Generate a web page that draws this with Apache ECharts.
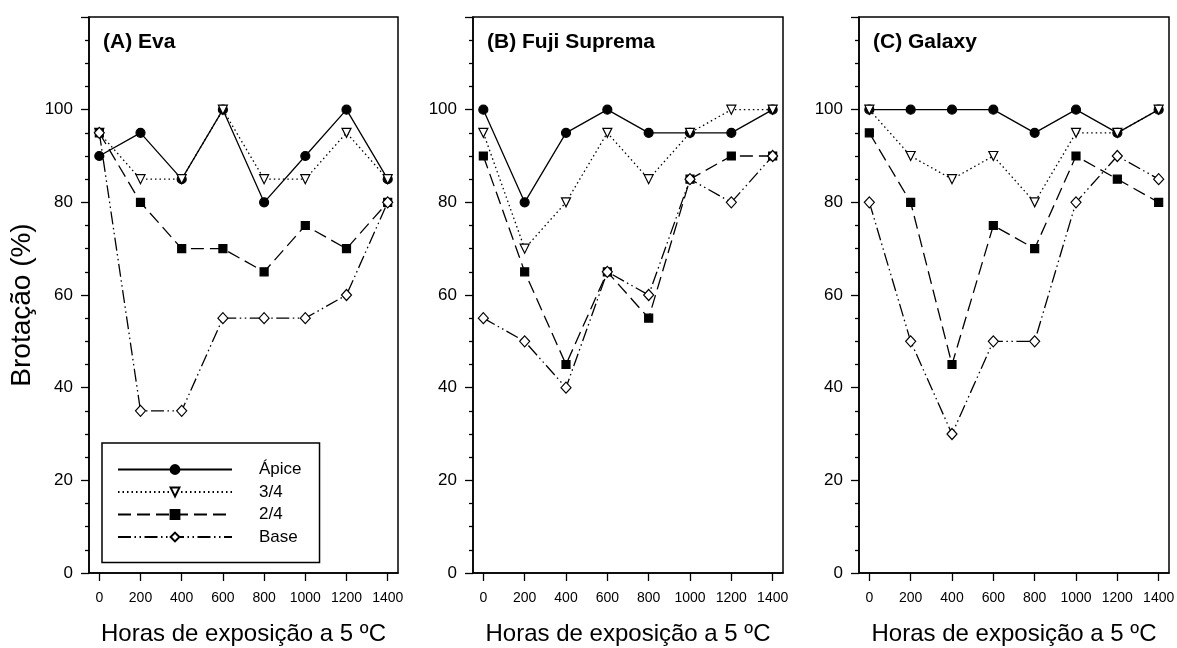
<!DOCTYPE html>
<html><head><meta charset="utf-8">
<script src="https://cdn.jsdelivr.net/npm/echarts@6/dist/echarts.min.js"></script>
<style>html,body{margin:0;padding:0;background:#fff}#c{width:1177px;height:648px}</style>
</head><body><div id="c"></div>
<script>
const hours = [0, 200, 400, 600, 800, 1000, 1200, 1400];
const yTicks = [0, 20, 40, 60, 80, 100];
const seriesNames = ['Ápice', '3/4', '2/4', 'Base'];
const panelTitles = ['(A) Eva', '(B) Fuji Suprema', '(C) Galaxy'];
const xTitle = 'Horas de exposição a 5 ºC';
const yTitle = 'Brotação (%)';

const evaApice = [90, 95, 85, 100, 80, 90, 100, 85];
const eva34 = [95, 85, 85, 100, 85, 85, 95, 85];
const eva24 = [95, 80, 70, 70, 65, 75, 70, 80];
const evaBase = [95, 35, 35, 55, 55, 55, 60, 80];

const fujiApice = [100, 80, 95, 100, 95, 95, 95, 100];
const fuji34 = [95, 70, 80, 95, 85, 95, 100, 100];
const fuji24 = [90, 65, 45, 65, 55, 85, 90, 90];
const fujiBase = [55, 50, 40, 65, 60, 85, 80, 90];

const galaxyApice = [100, 100, 100, 100, 95, 100, 95, 100];
const galaxy34 = [100, 90, 85, 90, 80, 95, 95, 100];
const galaxy24 = [95, 80, 45, 75, 70, 90, 85, 80];
const galaxyBase = [80, 50, 30, 50, 50, 80, 90, 85];

const panels = [
  [evaApice, eva34, eva24, evaBase],
  [fujiApice, fuji34, fuji24, fujiBase],
  [galaxyApice, galaxy34, galaxy24, galaxyBase]
];

const FONT = 'Liberation Sans, Arial, Helvetica, sans-serif';
const styles = [
  { symbol: 'circle', size: 9, fill: '#000', dash: 'solid', rotate: 0 },
  { symbol: 'triangle', size: 9, fill: '#fff', dash: [1.5, 3], rotate: 180 },
  { symbol: 'rect', size: 8, fill: '#000', dash: [13, 6], rotate: 0 },
  { symbol: 'diamond', size: [10, 11], fill: '#fff', dash: [13, 3.5, 1.5, 3.5, 1.5, 3.5], rotate: 0 }
];

const grids = [
  { left: 89, top: 17, width: 309, height: 556 },
  { left: 473, top: 17, width: 310, height: 556 },
  { left: 859, top: 17, width: 310, height: 556 }
];

const option = {
  animation: false,
  backgroundColor: '#fff',
  textStyle: { fontFamily: FONT, color: '#000' },
  title: panelTitles.map((t, i) => ({
    text: t, left: grids[i].left + 14, top: 32, padding: 0,
    textStyle: { fontSize: 21, fontWeight: 'bold', color: '#000', fontFamily: FONT }
  })),
  grid: grids.map(g => Object.assign({
    show: true, borderColor: '#000', borderWidth: 1.5, backgroundColor: 'transparent',
    containLabel: false, outerBoundsMode: 'none'
  }, g)),
  legend: {
    orient: 'vertical', left: 102, top: 443,
    padding: [18, 18, 17, 15],
    itemWidth: 114, itemHeight: 11, itemGap: 5.5,
    borderColor: '#000', borderWidth: 1.5,
    textStyle: { fontSize: 17, color: '#000', fontFamily: FONT, padding: [0, 0, 0, 22] },
    data: seriesNames
  },
  xAxis: grids.map((g, i) => ({
    type: 'value', gridIndex: i, min: -50, max: 1450,
    splitLine: { show: false },
    axisLine: { onZero: false, lineStyle: { color: '#000', width: 1.5 } },
    axisTick: { customValues: hours, length: 8, lineStyle: { color: '#000', width: 1.3 } },
    axisLabel: { customValues: hours, color: '#000', fontSize: 14, margin: 18, fontFamily: FONT,
                 formatter: v => String(v) },
    name: xTitle, nameLocation: 'middle', nameGap: 49,
    nameTextStyle: { fontSize: 24, color: '#000', fontFamily: FONT }
  })),
  yAxis: grids.map((g, i) => ({
    type: 'value', gridIndex: i, min: 0, max: 120, interval: 20,
    splitLine: { show: false },
    axisLine: { show: true, onZero: false, lineStyle: { color: '#000', width: 1.5 } },
    axisTick: { show: true, length: 8, lineStyle: { color: '#000', width: 1.3 } },
    minorTick: { show: true, splitNumber: 4, length: 4, lineStyle: { color: '#000', width: 1.3 } },
    axisLabel: { customValues: yTicks, color: '#000', fontSize: 17, margin: 16, fontFamily: FONT,
                 formatter: v => String(v) },
    name: i === 0 ? yTitle : '', nameLocation: 'middle', nameGap: 53,
    nameTextStyle: { fontSize: 28, color: '#000', fontFamily: FONT, padding: [0, 20, 0, 0] }
  })),
  series: []
};

panels.forEach((arrs, p) => {
  arrs.forEach((vals, s) => {
    const st = styles[s];
    option.series.push({
      type: 'line', name: seriesNames[s], xAxisIndex: p, yAxisIndex: p,
      data: hours.map((h, k) => [h, vals[k]]),
      symbol: st.symbol, symbolSize: st.size, symbolRotate: st.rotate, showSymbol: true,
      itemStyle: { color: st.fill, borderColor: '#000', borderWidth: 1.2 },
      lineStyle: { color: '#000', width: 1.3, type: st.dash },
      emphasis: { disabled: true },
      z: 2 + s
    });
  });
});

const chart = echarts.init(document.getElementById('c'), null, { renderer: 'canvas' });
chart.setOption(option);
</script>
</body></html>
